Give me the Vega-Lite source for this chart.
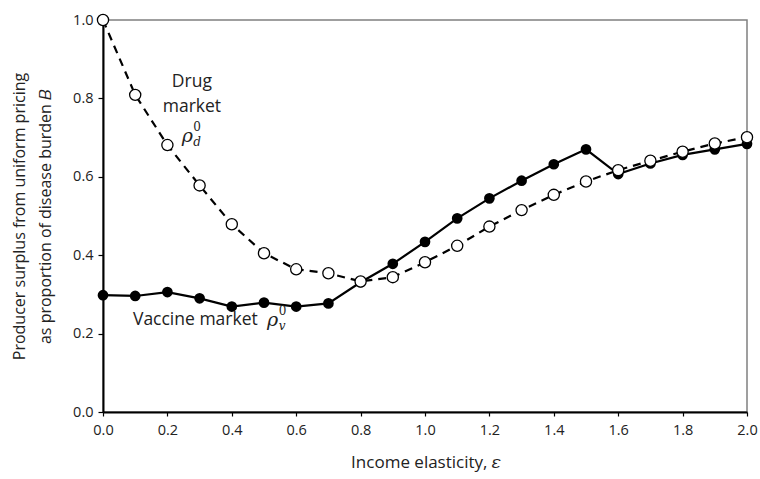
{
  "$schema": "https://vega.github.io/schema/vega-lite/v6.json",
  "width": 644,
  "height": 392,
  "autosize": "none",
  "padding": {"left": 103, "top": 20, "right": 13, "bottom": 67},
  "background": "white",
  "config": {
    "view": {"stroke": "#808080", "strokeWidth": 1.5},
    "font": "Open Sans",
    "axis": {
      "grid": false,
      "domainColor": "black",
      "domainWidth": 2,
      "tickColor": "black",
      "tickWidth": 1.2,
      "labelFont": "Open Sans",
      "labelFontSize": 14.5,
      "labelColor": "#222",
      "labelFlush": false,
      "titleFont": "Open Sans",
      "titleFontWeight": "normal",
      "titleColor": "#222"
    }
  },
  "datasets": {
    "series": [
      {"e": 0.0, "v": 0.298, "d": 1.0},
      {"e": 0.1, "v": 0.296, "d": 0.809},
      {"e": 0.2, "v": 0.306, "d": 0.681},
      {"e": 0.3, "v": 0.290, "d": 0.578},
      {"e": 0.4, "v": 0.269, "d": 0.479},
      {"e": 0.5, "v": 0.279, "d": 0.405},
      {"e": 0.6, "v": 0.269, "d": 0.364},
      {"e": 0.7, "v": 0.277, "d": 0.354},
      {"e": 0.8, "v": 0.331, "d": 0.333},
      {"e": 0.9, "v": 0.378, "d": 0.344},
      {"e": 1.0, "v": 0.434, "d": 0.382},
      {"e": 1.1, "v": 0.494, "d": 0.424},
      {"e": 1.2, "v": 0.545, "d": 0.473},
      {"e": 1.3, "v": 0.590, "d": 0.515},
      {"e": 1.4, "v": 0.632, "d": 0.554},
      {"e": 1.5, "v": 0.670, "d": 0.588},
      {"e": 1.6, "v": 0.607, "d": 0.617},
      {"e": 1.7, "v": 0.634, "d": 0.641},
      {"e": 1.8, "v": 0.656, "d": 0.664},
      {"e": 1.9, "v": 0.670, "d": 0.685},
      {"e": 2.0, "v": 0.684, "d": 0.701}
    ],
    "labels": [
      {"x": 0.276, "y": 0.842, "t": "Drug", "k": "plain", "a": "center"},
      {"x": 0.276, "y": 0.778, "t": "market", "k": "plain", "a": "center"},
      {"x": 0.093, "y": 0.235, "t": "Vaccine market", "k": "plain", "a": "left"},
      {"x": 0.262, "y": 0.704, "t": "ρ", "k": "rho", "a": "center"},
      {"x": 0.527, "y": 0.235, "t": "ρ", "k": "rho", "a": "center"},
      {"x": 0.262, "y": 0.704, "t": "0", "k": "sup", "a": "left"},
      {"x": 0.262, "y": 0.704, "t": "d", "k": "sub", "a": "left"},
      {"x": 0.527, "y": 0.235, "t": "0", "k": "sup", "a": "left"},
      {"x": 0.527, "y": 0.235, "t": "v", "k": "sub", "a": "left"}
    ]
  },
  "layer": [
    {
      "data": {"name": "series"},
      "mark": {"type": "line", "color": "black", "strokeWidth": 2.2},
      "encoding": {
        "x": {
          "field": "e", "type": "quantitative",
          "scale": {"domain": [0, 2], "nice": false},
          "axis": {"values": [0, 0.2, 0.4, 0.6, 0.8, 1.0, 1.2, 1.4, 1.6, 1.8, 2.0], "format": ".1f", "title": "Income elasticity, 𝜀", "titleFontSize": 17, "titlePadding": 18, "labelPadding": 7, "tickSize": 4}
        },
        "y": {
          "field": "v", "type": "quantitative",
          "scale": {"domain": [0, 1], "nice": false},
          "axis": {"values": [0, 0.2, 0.4, 0.6, 0.8, 1.0], "format": ".1f", "title": ["Producer surplus from uniform pricing", "as proportion of disease burden 𝐵"], "titleFontSize": 16, "titlePadding": 19, "titleLineHeight": 26, "labelPadding": 5, "tickSize": 5}
        }
      }
    },
    {
      "data": {"name": "series"},
      "mark": {"type": "point", "shape": "circle", "filled": true, "color": "black", "size": 115, "opacity": 1},
      "encoding": {
        "x": {"field": "e", "type": "quantitative"},
        "y": {"field": "v", "type": "quantitative"}
      }
    },
    {
      "data": {"name": "series"},
      "mark": {"type": "line", "color": "black", "strokeWidth": 2.2, "strokeDash": [8, 6]},
      "encoding": {
        "x": {"field": "e", "type": "quantitative"},
        "y": {"field": "d", "type": "quantitative"}
      }
    },
    {
      "data": {"name": "series"},
      "mark": {"type": "point", "shape": "circle", "filled": true, "fill": "white", "stroke": "black", "strokeWidth": 1.3, "size": 125, "opacity": 1},
      "encoding": {
        "x": {"field": "e", "type": "quantitative"},
        "y": {"field": "d", "type": "quantitative"}
      }
    },
    {
      "data": {"name": "labels"},
      "transform": [{"filter": "datum.k == 'plain' && datum.a == 'center'"}],
      "mark": {"type": "text", "fontSize": 17.5, "color": "#222", "align": "center", "baseline": "middle", "font": "Open Sans"},
      "encoding": {
        "x": {"field": "x", "type": "quantitative"},
        "y": {"field": "y", "type": "quantitative"},
        "text": {"field": "t"}
      }
    },
    {
      "data": {"name": "labels"},
      "transform": [{"filter": "datum.k == 'plain' && datum.a == 'left'"}],
      "mark": {"type": "text", "fontSize": 17.5, "color": "#222", "align": "left", "baseline": "middle", "font": "Open Sans"},
      "encoding": {
        "x": {"field": "x", "type": "quantitative"},
        "y": {"field": "y", "type": "quantitative"},
        "text": {"field": "t"}
      }
    },
    {
      "data": {"name": "labels"},
      "transform": [{"filter": "datum.k == 'rho'"}],
      "mark": {"type": "text", "fontSize": 19, "fontStyle": "italic", "color": "#222", "align": "center", "baseline": "middle", "font": "DejaVu Serif"},
      "encoding": {
        "x": {"field": "x", "type": "quantitative"},
        "y": {"field": "y", "type": "quantitative"},
        "text": {"field": "t"}
      }
    },
    {
      "data": {"name": "labels"},
      "transform": [{"filter": "datum.k == 'sup'"}],
      "mark": {"type": "text", "fontSize": 12, "color": "#222", "align": "left", "baseline": "middle", "dx": 6, "dy": -9, "font": "DejaVu Serif"},
      "encoding": {
        "x": {"field": "x", "type": "quantitative"},
        "y": {"field": "y", "type": "quantitative"},
        "text": {"field": "t"}
      }
    },
    {
      "data": {"name": "labels"},
      "transform": [{"filter": "datum.k == 'sub'"}],
      "mark": {"type": "text", "fontSize": 12, "fontStyle": "italic", "color": "#222", "align": "left", "baseline": "middle", "dx": 6, "dy": 6, "font": "DejaVu Serif"},
      "encoding": {
        "x": {"field": "x", "type": "quantitative"},
        "y": {"field": "y", "type": "quantitative"},
        "text": {"field": "t"}
      }
    }
  ]
}
